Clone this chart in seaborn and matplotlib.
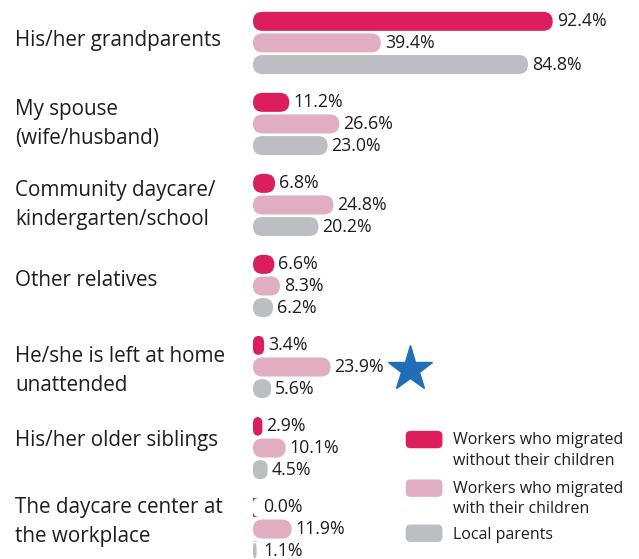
import matplotlib
matplotlib.use("Agg")  # no display in the sandbox
import matplotlib.pyplot as plt
import matplotlib.transforms as mtransforms
from matplotlib.patches import FancyBboxPatch, Patch
from matplotlib.legend_handler import HandlerPatch
import pandas as pd
import seaborn as sns

# --- Data ---
CATEGORIES = [
    "His/her grandparents",
    "My spouse\n(wife/husband)",
    "Community daycare/\nkindergarten/school",
    "Other relatives",
    "He/she is left at home\nunattended",
    "His/her older siblings",
    "The daycare center at\nthe workplace",
]
SERIES = [
    "Workers who migrated\nwithout their children",
    "Workers who migrated\nwith their children",
    "Local parents",
]
MIGRATED_ALONE = [92.4, 11.2, 6.8, 6.6, 3.4, 2.9, 0.0]
MIGRATED_WITH_KIDS = [39.4, 26.6, 24.8, 8.3, 23.9, 10.1, 11.9]
LOCAL_PARENTS = [84.8, 23.0, 20.2, 6.2, 5.6, 4.5, 1.1]
HIGHLIGHT = "He/she is left at home\nunattended"

# --- Style ---
COLORS = ["#DC1E5D", "#E0AEC0", "#BDBEC2"]
STAR_COLOR = "#1F6EB8"
TEXT_COLOR = "#1E1E1E"
LABEL_NUDGE_PX = [-2.5, 0, 0, -5, 4, -8, -7]  # the labels are not centred evenly

wide = pd.DataFrame({"category": CATEGORIES,
                     SERIES[0]: MIGRATED_ALONE,
                     SERIES[1]: MIGRATED_WITH_KIDS,
                     SERIES[2]: LOCAL_PARENTS})
df = wide.melt(id_vars="category", var_name="group", value_name="share")

sns.set_theme(style="white")
plt.rcParams["font.family"] = ["Open Sans", "DejaVu Sans"]

fig = plt.figure(figsize=(6.39, 5.59), dpi=100)
ax = fig.add_axes([253 / 639, 0, 1 - 253 / 639, 1])

sns.barplot(data=df, y="category", x="share", hue="group", order=CATEGORIES,
            hue_order=SERIES, palette=COLORS, saturation=1, orient="h",
            width=0.8, gap=0.12, legend=False, errorbar=None, ax=ax)
ax.set_xlim(0, 119)
ax.set_ylim(6.37, -0.53)
ax.axis("off")

# pixels per data unit, used to turn the plain bars into capsules
sx, sy = abs(ax.transData.transform((1, 1)) - ax.transData.transform((0, 0)))
aspect = sx / sy

for bar in list(ax.patches):
    x0, y0 = bar.get_xy()
    w, h = bar.get_width(), abs(bar.get_height())
    y0 = min(y0, y0 + bar.get_height())
    w_px, h_px = w * sx, h * sy
    r_px = max(min(h_px / 2, w_px / 2), 6)
    capsule = FancyBboxPatch((x0, y0), w, h,
                             boxstyle=f"round,pad=0,rounding_size={r_px / sx}",
                             mutation_aspect=aspect, facecolor=bar.get_facecolor(),
                             linewidth=0)
    bar.remove()
    ax.add_patch(capsule)
    ax.text((max(w_px, r_px) + 4) / sx, y0 + h / 2, f"{w:.1f}%", ha="left",
            va="center", fontsize=12.8, color=TEXT_COLOR)

# category labels on the left
label_tf = mtransforms.blended_transform_factory(fig.transFigure, ax.transData)
for i, cat in enumerate(CATEGORIES):
    ax.text(15 / 639, i + LABEL_NUDGE_PX[i] / sy, cat, transform=label_tf, ha="left",
            va="center", fontsize=14.9, color=TEXT_COLOR, linespacing=1.5)

# star next to the highlighted category
hi = CATEGORIES.index(HIGHLIGHT)
star_x = wide.loc[hi, SERIES].max() + 24.5
ax.plot(star_x, hi + 2 / sy, marker="*", ms=34, color=STAR_COLOR, mec=STAR_COLOR)


# --- Legend with rounded swatches, each swatch level with the first text line ---
def swatch(lift):
    def make(legend, orig_handle, xdescent, ydescent, width, height, fontsize):
        return FancyBboxPatch((-xdescent, -ydescent + lift * fontsize), width, height,
                              boxstyle="round,pad=0,rounding_size=3.5")
    return HandlerPatch(patch_func=make)


handles = [Patch(facecolor=c, linewidth=0) for c in COLORS]
legend_kw = dict(loc="upper left", frameon=False, fontsize=11.5, handlelength=2.3,
                 handleheight=1.3, handletextpad=0.65, borderpad=0, borderaxespad=0,
                 labelspacing=0.74, labelcolor=TEXT_COLOR)

# the two-line entries and the one-line entry sit at different pitches,
# so they go in two legends
leg_top = fig.legend(handles[:2], SERIES[:2], bbox_to_anchor=(405.7 / 639, 1 - 432 / 559),
                     handler_map={Patch: swatch(0.72)}, **legend_kw)
for t in leg_top.get_texts():
    t.set_linespacing(1.4)
fig.legend(handles[2:], SERIES[2:], bbox_to_anchor=(405.7 / 639, 1 - 524.5 / 559),
           handler_map={Patch: swatch(0.0)}, **legend_kw)

fig.savefig("out.png", dpi=100)
